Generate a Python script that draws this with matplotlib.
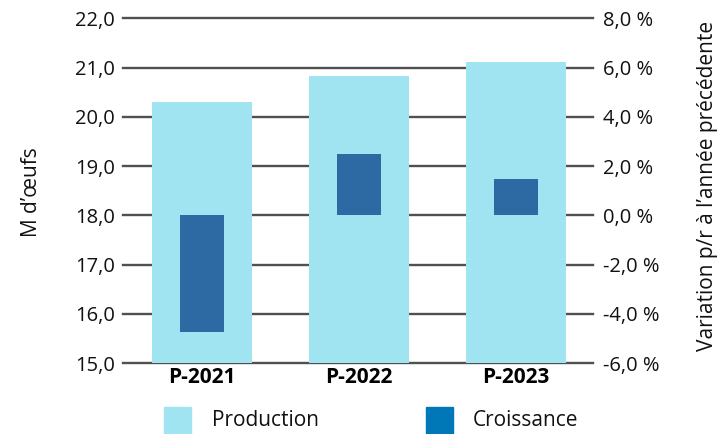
import matplotlib
matplotlib.use("Agg")
import matplotlib.pyplot as plt
from matplotlib.patches import Rectangle

categories = ["P-2021", "P-2022", "P-2023"]
production = [20.30, 20.82, 21.12]
croissance = [-4.73, 2.50, 1.48]
left_ticks = [15, 16, 17, 18, 19, 20, 21, 22]
right_ticks = [-6, -4, -2, 0, 2, 4, 6, 8]

plt.rcParams['font.family'] = ['Open Sans', 'DejaVu Sans']
plt.rcParams['axes.unicode_minus'] = False

fig = plt.figure(figsize=(7.25, 4.34), dpi=100)
ax = fig.add_axes([123/725, 1-363/434, (593-123)/725, (363-18.3)/434])
ax2 = ax.twinx()

x = list(range(len(categories)))
ax.bar(x, [p - 15 for p in production], bottom=15, width=0.64, color='#a0e4f1', zorder=2)
ax2.bar(x, croissance, width=0.28, color='#2d6aa3', zorder=3)

ax.set_xlim(-0.503, 2.49)
ax.set_ylim(15, 22)
ax2.set_ylim(-6, 8)
ax.set_yticks(left_ticks)
ax.set_yticklabels([f"{v:.1f}".replace('.', ',') for v in left_ticks])
ax2.set_yticks(right_ticks)
ax2.set_yticklabels([f"{v:.1f} %".replace('.', ',') for v in right_ticks])

ax.set_axisbelow(True)
ax.yaxis.grid(True, color='#505050', linewidth=1.7)
for gl in ax.get_ygridlines():
    gl.set_clip_on(False)
ax.tick_params(axis='y', length=0, pad=6, labelsize=14.5, labelcolor='#111111')
ax2.tick_params(axis='y', length=0, pad=7, labelsize=14.5, labelcolor='#111111')
ax.set_xticks(x)
ax.set_xticklabels(categories, fontweight='bold', fontsize=15)
ax.tick_params(axis='x', length=0, pad=3)

for a in (ax, ax2):
    for s in ['top', 'right', 'left', 'bottom']:
        a.spines[s].set_visible(False)
ax.patch.set_visible(False)

fig.text(32/725, 1-192/434, "M d’œufs", rotation=90, ha='center', va='center',
         fontsize=15, color='#111111')
fig.text(708/725, 1-186/434, "Variation p/r à l’année précédente", rotation=90, ha='center', va='center',
         fontsize=15, color='#111111')

# legend
fig.add_artist(Rectangle((164/725, 0), 27/725, 27/434, transform=fig.transFigure, color='#a0e4f1'))
fig.text(212/725, 1-420/434, "Production", ha='left', va='center', fontsize=15, color='#111111')
fig.add_artist(Rectangle((426/725, 0), 27/725, 27/434, transform=fig.transFigure, color='#0078b8'))
fig.text(473/725, 1-420/434, "Croissance", ha='left', va='center', fontsize=15, color='#111111')

fig.savefig("out.png", dpi=100)
